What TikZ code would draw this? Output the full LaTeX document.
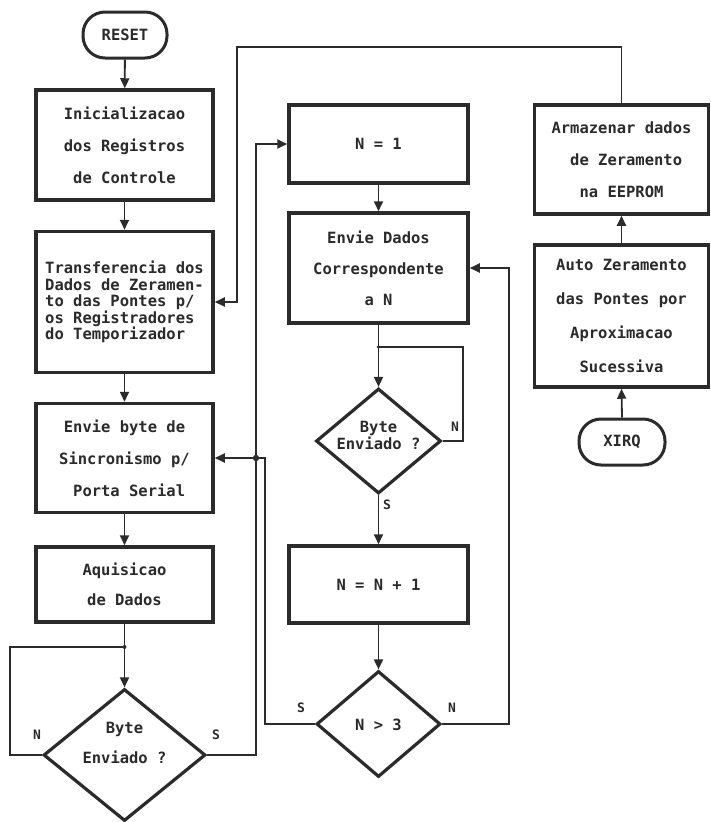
\documentclass[tikz,border=0pt]{standalone}
\usepackage{fontspec}
\setmonofont{DejaVu Sans Mono}
\usetikzlibrary{shapes.geometric,arrows.meta}
\definecolor{ink}{HTML}{2B2B2B}
\tikzset{
  box/.style={draw=ink, line width=3.5pt, rectangle, inner sep=0pt, align=center, text=ink,
    font=\ttfamily\bfseries\fontsize{15.5}{32}\selectfont},
  term/.style={draw=ink, line width=3pt, rectangle, rounded corners=22pt, inner sep=0pt, text=ink,
    font=\ttfamily\bfseries\fontsize{15.5}{18}\selectfont},
  dia/.style={draw=ink, line width=3.2pt, diamond, inner sep=0pt},
  dtext/.style={align=center, text=ink, inner sep=0pt},
  conn/.style={draw=ink, line width=1.8pt},
  arr/.style={conn, -{Triangle[length=10pt,width=9pt]}},
  lbl/.style={text=ink, inner sep=0pt, font=\ttfamily\bfseries\fontsize{13}{13}\selectfont},
}
\begin{document}
\begin{tikzpicture}[x=1pt,y=-1pt]
\useasboundingbox[fill=white] (0,0) rectangle (711,822);

% left column
\node[term, minimum width=84pt, minimum height=46pt] (reset) at (125,35) {RESET};
\node[box, minimum width=177pt, minimum height=110pt] (init) at (124.5,145) {Inicializacao\\dos Registros\\de Controle};
\node[box, minimum width=177pt, minimum height=141pt, align=left,
  font=\ttfamily\bfseries\fontsize{15.5}{16.5}\selectfont] (transf) at (124.5,302)
  {Transferencia dos\\Dados de Zeramen-\\to das Pontes p/\\os Registradores\\do Temporizador};
\node[box, minimum width=177pt, minimum height=109pt] (sync) at (124.5,458) {Envie byte de\\Sincronismo p/\\\ Porta Serial};
\node[box, minimum width=177pt, minimum height=75pt, font=\ttfamily\bfseries\fontsize{15.5}{30}\selectfont] (aquis) at (124.5,584.5) {Aquisicao\\de Dados};
\node[dia, minimum width=162pt, minimum height=132pt] (d1) at (124.5,755) {};
\node[dtext, font=\ttfamily\bfseries\fontsize{15.5}{30}\selectfont] (d1t) at (124.5,743) {Byte\\Enviado ?};

% middle column
\node[box, minimum width=179pt, minimum height=78pt] (n1) at (378.5,144) {N = 1};
\node[box, minimum width=179pt, minimum height=110pt, font=\ttfamily\bfseries\fontsize{15.5}{31}\selectfont] (envd) at (378.5,268) {Envie Dados\\Correspondente\\a N};
\node[dia, minimum width=125pt, minimum height=105pt] (d2) at (378.5,441) {};
\node[dtext, font=\ttfamily\bfseries\fontsize{15.5}{17}\selectfont] (d2t) at (378.5,435) {Byte\\Enviado ?};
\node[box, minimum width=179pt, minimum height=77pt] (ninc) at (378.5,584.5) {N = N + 1};
\node[dia, minimum width=124pt, minimum height=106pt] (d3) at (378.5,724) {};
\node[dtext, font=\ttfamily\bfseries\fontsize{15.5}{16}\selectfont] (d3t) at (378.5,725) {N > 3};

% right column
\node[box, minimum width=174pt, minimum height=109pt] (arm) at (621.5,159.5) {Armazenar dados\\\ de Zeramento\\na EEPROM};
\node[box, minimum width=174pt, minimum height=142pt, font=\ttfamily\bfseries\fontsize{15.5}{34}\selectfont] (auto) at (621.5,316) {Auto Zeramento\\das Pontes por\\Aproximacao\\Sucessiva};
\node[term, minimum width=86pt, minimum height=46pt] (xirq) at (622,442) {XIRQ};

% coordinates
\coordinate (j1) at (124.5,647);
\coordinate (j2) at (378.5,347);
\coordinate (bus1) at (256,458);
\coordinate (bus2) at (265,458);
\coordinate (lp1) at (10,647);
\coordinate (lp2) at (463,347);
\coordinate (rt) at (509,268);
\coordinate (top) at (237,47);

% connectors left column
\draw[arr] (reset) -- (init);
\draw[arr] (init) -- (transf);
\draw[arr] (transf) -- (sync);
\draw[arr] (sync) -- (aquis);
\draw[arr] (aquis.south) -- (d1.north);
\draw[conn] (d1.west) -| (lp1) -- (j1);
\fill[ink] (j1) circle (2pt);
\draw[arr] (d1.east) -| (bus1) |- (n1.west);
\draw[arr] (d3.west) -| (bus2) -- (sync.east);
\fill[ink] (bus1) circle (3.2pt);

% middle
\draw[arr] (n1) -- (envd);
\draw[arr] (envd.south) -- (d2.north);
\draw[conn] (d2.east) -| (lp2) -- (j2);
\fill[ink] (j2) circle (1.8pt);
\draw[arr] (d2.south) -- (ninc.north);
\draw[arr] (ninc.south) -- (d3.north);
\draw[arr] (d3.east) -| (rt) -- (envd.east);

% right
\draw[arr] (xirq.north) -- (auto.south);
\draw[arr] (auto.north) -- (arm.south);
\draw[arr] (arm.north) |- (top) |- (transf.east);

% labels
\node[lbl] (l1) at (37,735) {N};
\node[lbl] (l2) at (216,735) {S};
\node[lbl] (l3) at (455,427) {N};
\node[lbl] (l4) at (387,505) {S};
\node[lbl] (l5) at (301,708) {S};
\node[lbl] (l6) at (452,708) {N};
\end{tikzpicture}
\end{document}
